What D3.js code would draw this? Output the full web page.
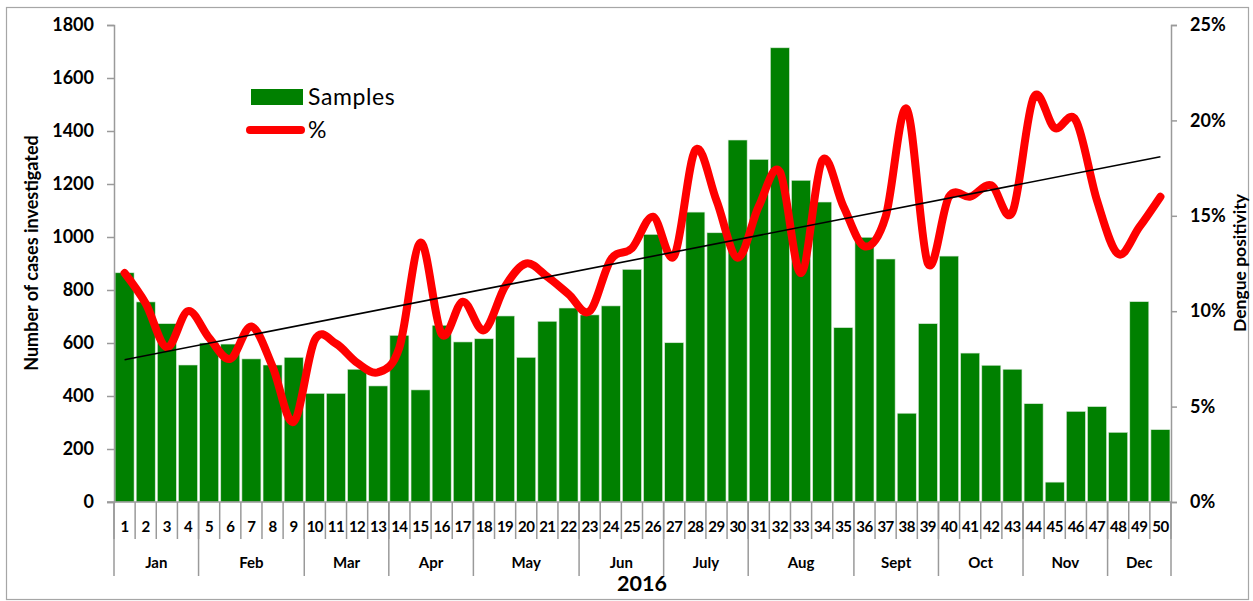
<!DOCTYPE html>
<html>
<head>
<meta charset="utf-8">
<script src="https://cdn.jsdelivr.net/npm/d3@7"></script>
<style>
  html, body { margin: 0; padding: 0; background: #fff; }
  svg { display: block; font-family: Lato, "Open Sans", sans-serif; }
</style>
</head>
<body>
<svg id="chart" width="1253" height="601"></svg>
<script>
// ---- data ----
const weeks = d3.range(1, 51).map(String);
const samples = [865, 755, 673, 517, 600, 596, 540, 517, 546, 410,
                 410, 501, 438, 629, 423, 667, 604, 616, 702, 546,
                 682, 732, 706, 740, 878, 1010, 601, 1094, 1016, 1366,
                 1293, 1714, 1214, 1132, 658, 999, 917, 335, 673, 928,
                 562, 516, 501, 371, 75, 342, 360, 263, 756, 273];
const positivity = [12.0, 10.4, 8.1, 10.0, 8.6, 7.5, 9.2, 7.1, 4.2, 8.5,
                    8.3, 7.3, 6.8, 8.1, 13.6, 8.8, 10.5, 9.0, 11.3, 12.5,
                    11.8, 10.9, 10.0, 12.7, 13.3, 14.95, 12.9, 18.45, 15.8, 12.8,
                    15.5, 17.3, 12.0, 17.9, 15.5, 13.4, 14.95, 20.6, 12.5, 16.0,
                    16.0, 16.6, 15.2, 21.2, 19.6, 20.0, 15.8, 13.0, 14.4, 16.0];
const months = ["Jan", "Feb", "Mar", "Apr", "May", "Jun", "July", "Aug", "Sept", "Oct", "Nov", "Dec"];
const monthWeeks = [4, 5, 4, 4, 5, 4, 4, 5, 4, 4, 4, 3];
const leftTicks = [0, 200, 400, 600, 800, 1000, 1200, 1400, 1600, 1800];
const rightTicks = [0, 5, 10, 15, 20, 25];
const yearLabel = "2016";
const leftTitle = "Number of cases investigated";
const rightTitle = "Dengue positivity";
const legendLabels = ["Samples", "%"];

// ---- layout ----
const svg = d3.select("#chart");
const L = 114, R = 1171, T = 25, B = 502;
const green = "#008000", red = "#ff0000", axisGray = "#9a9a9a";

svg.append("rect").attr("x", 6.5).attr("y", 7.5).attr("width", 1242).attr("height", 592)
  .attr("fill", "#fff").attr("stroke", "#a6a6a6").attr("stroke-width", 1.2);

const x = d3.scaleBand().domain(weeks).range([L, R]).paddingInner(0.1).paddingOuter(0.05);
const yL = d3.scaleLinear().domain([0, 1800]).range([B, T]);
const yR = d3.scaleLinear().domain([0, 25]).range([B, T]);
const step = x.step();

// bars
svg.append("g").selectAll("rect").data(samples).join("rect")
  .attr("x", (d, i) => x(weeks[i]))
  .attr("y", d => yL(d))
  .attr("width", x.bandwidth())
  .attr("height", d => B - yL(d))
  .attr("fill", green)
  .attr("stroke", "#d8e8d8").attr("stroke-width", 0.6);

// left axis
const axL = svg.append("g").attr("transform", `translate(${L},0)`)
  .call(d3.axisLeft(yL).tickValues(leftTicks).tickSize(7).tickPadding(13).tickFormat(d3.format("d")));
axL.select(".domain").attr("stroke", axisGray).attr("stroke-width", 1.5);
axL.selectAll(".tick line").attr("stroke", axisGray).attr("stroke-width", 1.5);
axL.selectAll("text").attr("font-size", 18).attr("font-weight", "bold").attr("fill", "#000")
  .attr("font-family", "Lato, sans-serif");

// right axis
const axR = svg.append("g").attr("transform", `translate(${R},0)`)
  .call(d3.axisRight(yR).tickValues(rightTicks).tickSize(6).tickPadding(13).tickFormat(d => d + "%"));
axR.select(".domain").attr("stroke", axisGray).attr("stroke-width", 1.5);
axR.selectAll(".tick line").attr("stroke", axisGray).attr("stroke-width", 1.5);
axR.selectAll("text").attr("font-size", 18).attr("font-weight", "bold").attr("fill", "#000")
  .attr("font-family", "Lato, sans-serif");

// x axis baseline
svg.append("line").attr("x1", 107).attr("x2", R).attr("y1", B).attr("y2", B)
  .attr("stroke", axisGray).attr("stroke-width", 1.5);

// week separators & labels
const sep = svg.append("g").attr("stroke", axisGray).attr("stroke-width", 1.5);
d3.range(0, 51).forEach(i => {
  sep.append("line").attr("x1", L + i * step).attr("x2", L + i * step)
    .attr("y1", B).attr("y2", 539);
});
svg.append("g").selectAll("text").data(weeks).join("text")
  .attr("x", d => x(d) + x.bandwidth() / 2)
  .attr("y", 532)
  .attr("text-anchor", "middle")
  .attr("font-size", 15).attr("font-weight", "bold").attr("letter-spacing", -0.5)
  .text(d => d);

// month separators & labels
let cum = 0;
const mg = svg.append("g");
mg.append("line").attr("x1", L).attr("x2", L).attr("y1", B).attr("y2", 576)
  .attr("stroke", axisGray).attr("stroke-width", 1.5);
months.forEach((m, i) => {
  const start = cum, end = cum + monthWeeks[i];
  cum = end;
  const xs = L + start * step, xe = L + end * step;
  mg.append("line").attr("x1", xe).attr("x2", xe).attr("y1", B).attr("y2", 576)
    .attr("stroke", axisGray).attr("stroke-width", 1.5);
  mg.append("text").attr("x", (xs + xe) / 2).attr("y", 568)
    .attr("text-anchor", "middle").attr("font-size", 15).attr("font-weight", "bold")
    .text(m);
});
svg.append("text").attr("x", 642).attr("y", 591).attr("text-anchor", "middle")
  .attr("font-size", 21.5).attr("font-weight", "bold").text(yearLabel);

// positivity line
const cx = i => x(weeks[i]) + x.bandwidth() / 2;
const line = d3.line().x((d, i) => cx(i)).y(d => yR(d)).curve(d3.curveCatmullRom.alpha(0));
svg.append("path").datum(positivity).attr("d", line)
  .attr("fill", "none").attr("stroke", red).attr("stroke-width", 8)
  .attr("stroke-linecap", "round").attr("stroke-linejoin", "round");

// linear trend of positivity
const n = positivity.length;
const xm = d3.mean(d3.range(n)), ym = d3.mean(positivity);
const slope = d3.sum(positivity, (d, i) => (i - xm) * (d - ym)) / d3.sum(d3.range(n), i => (i - xm) ** 2);
const icpt = ym - slope * xm;
svg.append("line")
  .attr("x1", cx(0)).attr("y1", yR(icpt))
  .attr("x2", cx(n - 1)).attr("y2", yR(icpt + slope * (n - 1)))
  .attr("stroke", "#000").attr("stroke-width", 1.6);

// axis titles
svg.append("text").attr("transform", `translate(38,253) rotate(-90)`)
  .attr("text-anchor", "middle").attr("font-size", 18).attr("font-weight", "bold").text(leftTitle);
svg.append("text").attr("transform", `translate(1246,263) rotate(-90)`)
  .attr("text-anchor", "middle").attr("font-size", 17.5).attr("font-weight", "bold").text(rightTitle);

// legend
const lg = svg.append("g");
lg.append("rect").attr("x", 251).attr("y", 89).attr("width", 52).attr("height", 16).attr("fill", green);
lg.append("text").attr("x", 308).attr("y", 105).attr("font-size", 23).attr("letter-spacing", 0.6).text(legendLabels[0]);
lg.append("line").attr("x1", 250).attr("x2", 301).attr("y1", 130).attr("y2", 130)
  .attr("stroke", red).attr("stroke-width", 8).attr("stroke-linecap", "round");
lg.append("text").attr("x", 308).attr("y", 138).attr("font-size", 23).text(legendLabels[1]);
</script>
</body>
</html>
